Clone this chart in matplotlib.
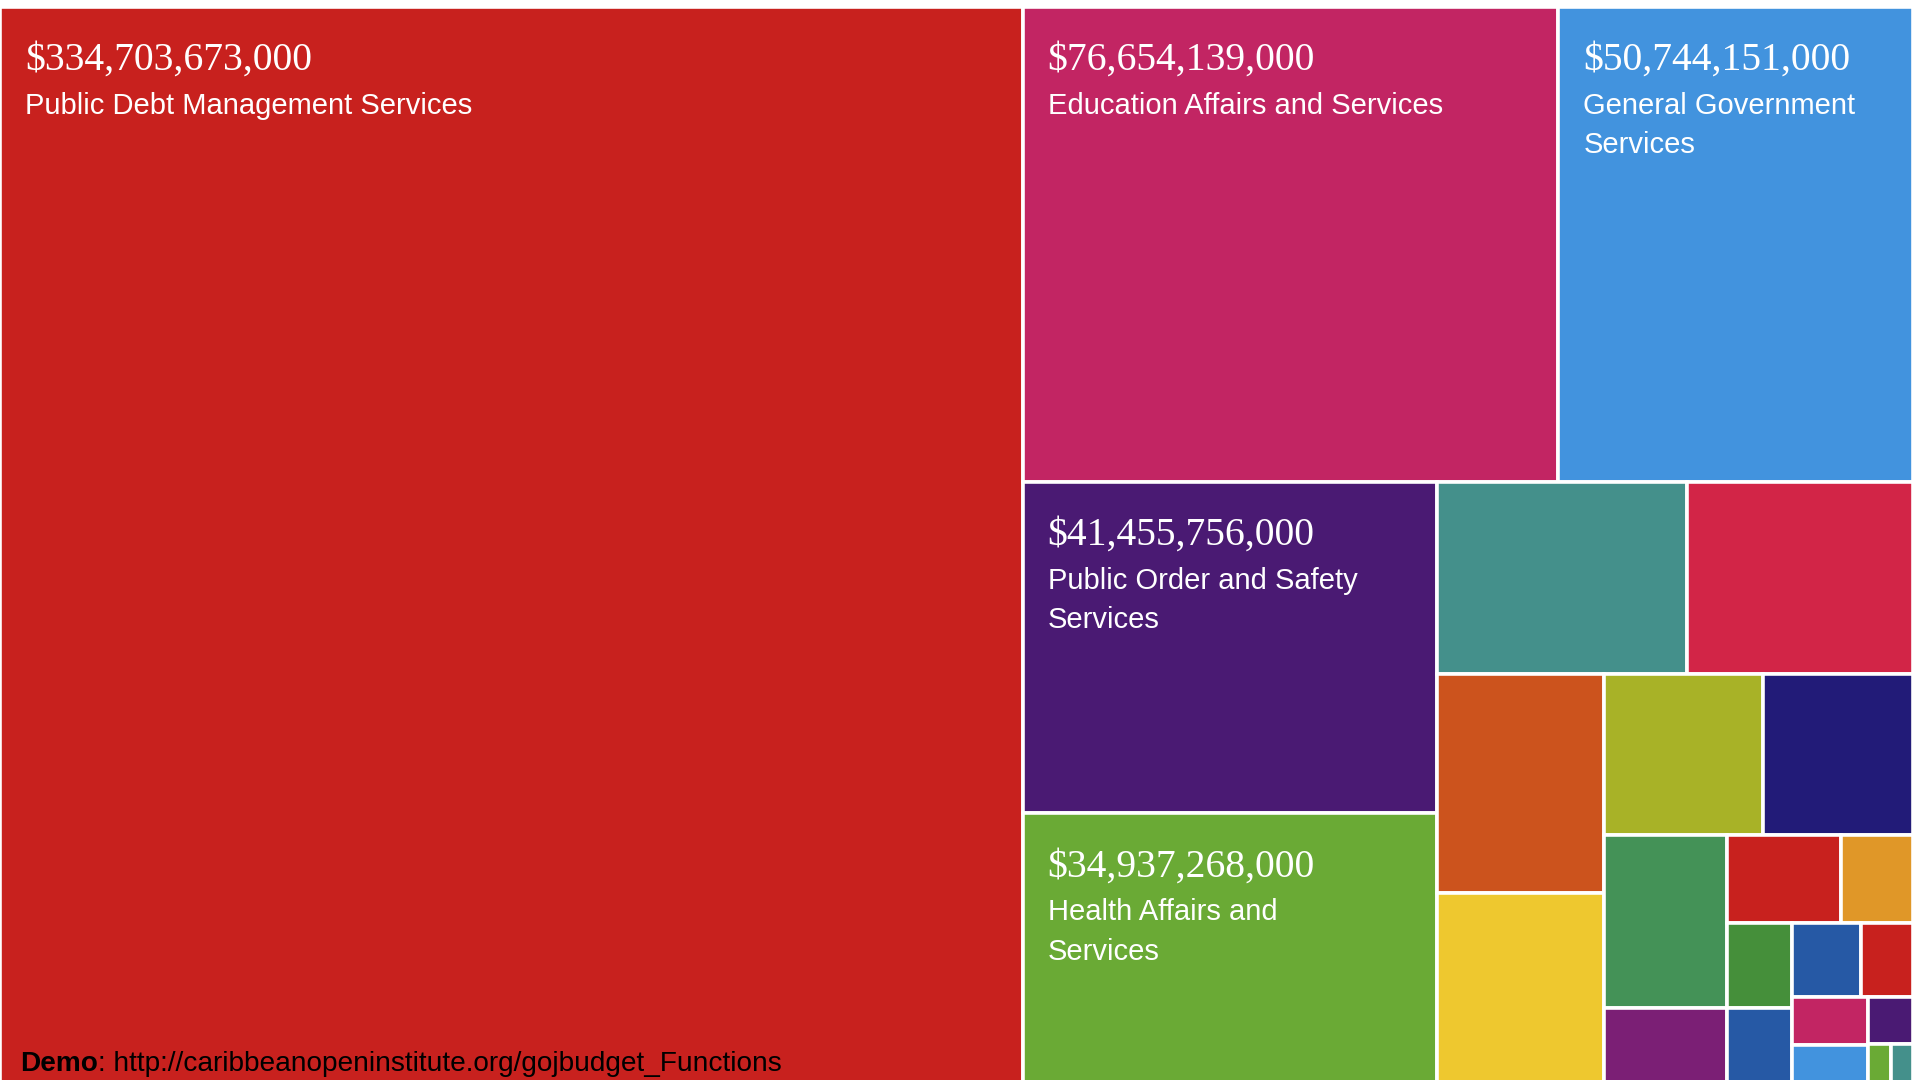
import matplotlib.pyplot as plt
from matplotlib.patches import Rectangle

# Budget by function (J$), largest first; small blocks
values = [334703673000, 76654139000, 50744151000, 41455756000, 34937268000,
          14460000000, 13140000000, 11000000000, 10060000000, 7640000000,
          7260000000, 6420000000, 3140000000, 3030000000, 1900000000,
          1680000000, 1660000000, 1530000000, 1160000000, 1120000000,
          1090000000, 640000000, 280000000, 260000000, 120000000]

labels = ["Public Debt Management Services",
          "Education Affairs and Services",
          "General Government\nServices",
          "Public Order and Safety\nServices",
          "Health Affairs and\nServices"]

colors = ["#c8211e", "#c22563", "#4293de", "#4a1a73", "#6aaa35",
          "#44908b", "#d22547", "#cc531d", "#eec82f", "#a8b227",
          "#221b78", "#449257", "#7b1f75", "#c8211e", "#e09728",
          "#458f3a", "#2659a5", "#2659a5", "#c8211e", "#c22563",
          "#4293de", "#4a1a73", "#6aaa35", "#44908b", "#cc531d"]


def layout_row(sizes, x, y, dx, dy):
    rects = []
    covered = sum(sizes)
    if dx >= dy:
        w = covered / dy
        cy = y
        for s in sizes:
            rects.append((x, cy, w, s / w))
            cy += s / w
        return rects, (x + w, y, dx - w, dy)
    h = covered / dx
    cx = x
    for s in sizes:
        rects.append((cx, y, s / h, h))
        cx += s / h
    return rects, (x, y + h, dx, dy - h)


def worst(sizes, x, y, dx, dy):
    rects, _ = layout_row(sizes, x, y, dx, dy)
    return max(max(w / h, h / w) for _, _, w, h in rects)


def squarify(vals, x, y, dx, dy):
    total = sum(vals)
    sizes = [v / total * dx * dy for v in vals]
    out = []
    while sizes:
        i = 1
        while i < len(sizes) and worst(sizes[:i + 1], x, y, dx, dy) <= worst(sizes[:i], x, y, dx, dy):
            i += 1
        rects, (x, y, dx, dy) = layout_row(sizes[:i], x, y, dx, dy)
        out += rects
        sizes = sizes[i:]
    return out


fig = plt.figure(figsize=(19.2, 10.8), dpi=100)
ax = fig.add_axes([0, 0, 1, 1])
ax.set_xlim(0, 1920)
ax.set_ylim(1080, 0)
ax.axis('off')

# treemap area runs a little past the bottom of the picture
rects = squarify(values, 0, 7, 1913, 1086)

for (x, y, w, h), c in zip(rects, colors):
    ax.add_patch(Rectangle((x, y), w, h, facecolor=c, edgecolor='white', linewidth=2.6))

for (x, y, w, h), v, lab in zip(rects, values, labels):
    ax.text(x + 25, y + 63, f"${v:,.0f}", color='white', fontsize=28.5,
            family='Liberation Serif', va='baseline', ha='left')
    ax.text(x + 25, y + 85, lab, color='white', fontsize=21,
            family='Liberation Sans', va='top', ha='left', linespacing=1.52)

t = ax.text(20, 1071, "Demo", fontsize=20.2, family='Liberation Sans',
            fontweight='bold', color='black', va='baseline', ha='left')
ax.annotate(": http://caribbeanopeninstitute.org/gojbudget_Functions",
            xy=(1, 0), xycoords=t, fontsize=20.2, family='Liberation Sans',
            color='black', va='bottom', ha='left')

plt.savefig('out.png', dpi=100)
plt.close()
